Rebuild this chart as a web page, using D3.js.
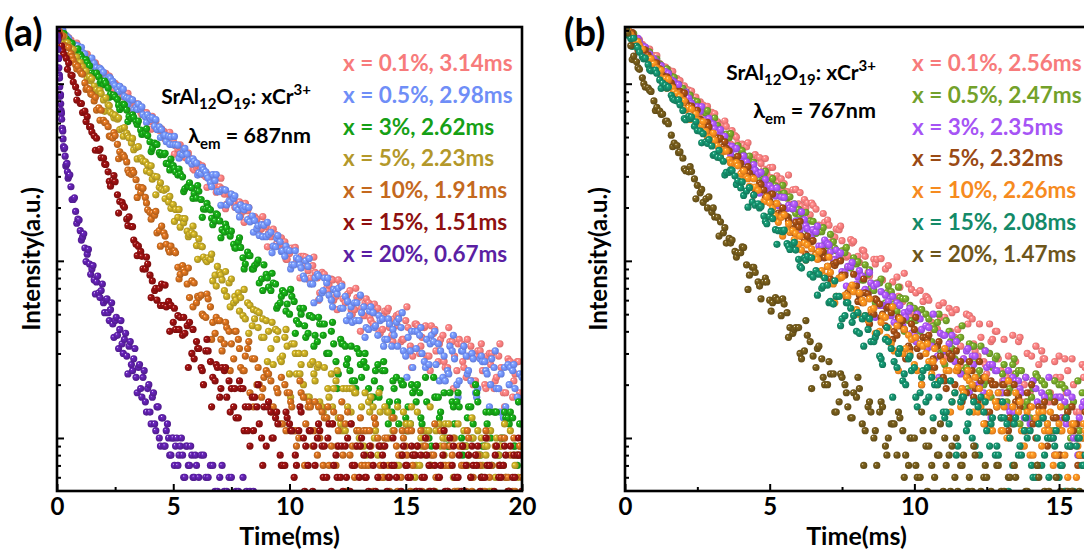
<!DOCTYPE html>
<html><head><meta charset="utf-8">
<script src="https://cdn.jsdelivr.net/npm/d3@7/dist/d3.min.js"></script>
<style>
html,body{margin:0;padding:0;background:#fff;}
svg{display:block;}
text{font-family:Lato,"Open Sans","DejaVu Sans",sans-serif;font-weight:700;}
</style></head><body>
<svg id="chart" width="1084" height="550"></svg>
<script>
// ---------- DATA (photon counts) ----------
const timeA = [0,0.2,0.4,0.6,0.8,1,1.2,1.4,1.6,1.8,2,2.2,2.4,2.6,2.8,3,3.2,3.4,3.6,3.8,4,4.2,4.4,4.6,4.8,5,5.2,5.4,5.6,5.8,6,6.2,6.4,6.6,6.8,7,7.2,7.4,7.6,7.8,8,8.2,8.4,8.6,8.8,9,9.2,9.4,9.6,9.8,10,10.2,10.4,10.6,10.8,11,11.2,11.4,11.6,11.8,12,12.2,12.4,12.6,12.8,13,13.2,13.4,13.6,13.8,14,14.2,14.4,14.6,14.8,15,15.2,15.4,15.6,15.8,16,16.2,16.4,16.6,16.8,17,17.2,17.4,17.6,17.8,18,18.2,18.4,18.6,18.8,19,19.2,19.4,19.6,19.8,20];
const timeAo = [0.1,0.3,0.5,0.7,0.9,1.1,1.3,1.5,1.7,1.9,2.1,2.3,2.5,2.7,2.9,3.1,3.3,3.5,3.7,3.9,4.1,4.3,4.5,4.7,4.9,5.1,5.3,5.5,5.7,5.9,6.1,6.3,6.5,6.7,6.9,7.1,7.3,7.5,7.7,7.9,8.1,8.3,8.5,8.7,8.9,9.1,9.3,9.5,9.7,9.9,10.1,10.3,10.5,10.7,10.9,11.1,11.3,11.5,11.7,11.9,12.1,12.3,12.5,12.7,12.9,13.1,13.3,13.5,13.7,13.9,14.1,14.3,14.5,14.7,14.9,15.1,15.3,15.5,15.7,15.9,16.1,16.3,16.5,16.7,16.9,17.1,17.3,17.5,17.7,17.9,18.1,18.3,18.5,18.7,18.9,19.1,19.3,19.5,19.7,19.9];
const timeAt = [0.05,0.25,0.45,0.65,0.85,1.05,1.25,1.45,1.65,1.85,2.05,2.25,2.45,2.65,2.85,3.05,3.25,3.45,3.65,3.85,4.05,4.25,4.45,4.65,4.85,5.05,5.25,5.45,5.65,5.85,6.05,6.25,6.45,6.65,6.85,7.05,7.25,7.45,7.65,7.85,8.05,8.25,8.45,8.65,8.85,9.05,9.25,9.45,9.65,9.85,10.05,10.25,10.45,10.65,10.85,11.05,11.25,11.45,11.65,11.85,12.05,12.25,12.45,12.65,12.85,13.05,13.25,13.45,13.65,13.85,14.05,14.25,14.45,14.65,14.85,15.05,15.25,15.45,15.65,15.85,16.05,16.25,16.45,16.65,16.85,17.05,17.25,17.45,17.65,17.85,18.05,18.25,18.45,18.65,18.85,19.05,19.25,19.45,19.65,19.85];
const timeB = timeA.slice(0, 81);
const timeBo = timeAo.slice(0, 80);
const timeBt = timeAt.slice(0, 80);
const timeA20 = [0,0.02,0.04,0.06,0.08,0.1,0.12,0.14,0.16,0.18,0.2,0.23,0.26,0.3,0.35,0.4,0.45,0.5,0.6,0.7,0.8,0.9,1.0,1.1,1.2,1.3,1.4,1.5,1.6,1.7,1.8,1.9,2.0,2.1,2.2,2.3,2.4,2.5,2.6,2.7,2.8,2.9,3.0,3.1,3.2,3.3,3.4,3.5,3.6,3.7,3.8,3.9,4.0,4.1,4.2,4.3,4.4,4.5,4.6,4.7,4.8,4.9,5.0,5.1,5.2,5.3,5.4,5.5,5.6,5.7,5.8,5.9,6.0,6.2,6.4,6.6,6.8,7.0,7.2,7.4,7.6,7.8,8.0,8.3,8.6,9.0];
const timeA20o = [0.01,0.03,0.05,0.07,0.09,0.11,0.13,0.15,0.17,0.19,0.22,0.25,0.28,0.33,0.38,0.43,0.48,0.55,0.65,0.75,0.85,0.95,1.05,1.15,1.25,1.35,1.45,1.55,1.65,1.75,1.85,1.95,2.05,2.15,2.25,2.35,2.45,2.55,2.65,2.75,2.85,2.95,3.05,3.15,3.25,3.35,3.45,3.55,3.65,3.75,3.85,3.95,4.05,4.15,4.25,4.35,4.45,4.55,4.65,4.75,4.85,4.95,5.05,5.15,5.25,5.35,5.45,5.55,5.65,5.75,5.85,5.95,6.1,6.3,6.5,6.7,6.9,7.1,7.3,7.5,7.7,7.9,8.15,8.45,8.8];

// panel (a), lambda_em = 687 nm
const a_x01 = [2060,1975,1820,1760,1610,1555,1425,1390,1265,1230,1120,1095,990,975,880,862,780,768,690,682,612,602,545,538,482,476,428,420,378,372,336,332,298,294,266,262,238,236,212,214,190,192,170,172,152,156,137,141,122,128,110,117,99,106,88,94,80,86,70,79,63,74,58,68,53,62,49,58,44,54,41,52,38,49,35,46,33,44,30,42,29,39,27,38,25,35,24,34,22,33,21,31,20,30,19,29,18,28,17,27,16];
const a_x01_o = [2085,1873,1822,1615,1628,1486,1468,1288,1258,1114,1145,1025,1005,961,850,830,717,763,689,610,655,563,556,478,498,447,452,383,381,326,352,306,307,304,249,255,209,236,210,180,211,174,178,146,162,144,151,121,125,102,118,99,106,105,80,86,66,84,73,60,78,61,65,50,62,54,61,46,51,39,52,42,47,50,36,42,29,43,37,29,43,31,36,25,35,29,36,25,29,20,31,24,29,30,22,25,18,27,23,18];
const a_x01_t = [1901,1981,1804,1640,1695,1388,1448,1312,1310,1128,1127,1105,932,929,845,882,693,769,669,686,554,614,549,488,532,400,444,394,406,331,345,344,260,282,244,293,197,238,201,215,165,200,174,151,178,120,146,125,135,102,115,119,80,94,78,105,60,84,68,78,53,74,63,53,70,40,58,48,57,40,49,54,35,43,36,55,25,44,33,43,24,41,34,27,42,19,34,27,36,21,29,34,19,26,21,34,15,27,21,27];
const a_x05 = [2073,1930,1868,1705,1650,1510,1470,1340,1305,1190,1160,1050,1030,930,915,830,812,735,722,650,640,575,570,510,505,452,450,398,400,352,356,310,318,276,284,246,252,218,225,194,198,171,179,152,160,137,145,120,128,106,114,95,102,82,93,74,84,66,75,60,68,54,63,49,58,46,55,41,51,38,47,36,33,45,42,29,31,40,38,27,26,35,34,22,24,31,20,31,29,21,18,28,27,15,25,19,13,26,24,17,22];
const a_x05_o = [2080,1850,1807,1601,1635,1498,1355,1394,1233,1199,1061,1071,977,965,847,827,713,767,669,668,644,552,550,471,501,453,401,431,369,365,314,327,293,307,246,252,207,238,200,207,202,166,169,139,159,141,121,139,114,115,95,104,91,100,74,80,61,80,64,69,70,54,59,45,58,51,42,55,43,46,36,44,38,47,31,37,25,40,30,36,38,26,31,21,33,28,21,33,24,28,19,27,23,28,19,23,15,25,19,23];
const a_x05_t = [2052,2010,1697,1690,1536,1604,1315,1371,1229,1222,1044,1089,991,901,932,763,810,716,740,604,627,628,497,512,455,504,380,422,367,377,305,337,303,262,307,206,251,215,233,177,194,200,145,158,137,165,111,134,113,121,90,114,95,79,103,58,82,68,80,55,65,72,46,55,46,64,37,52,42,49,33,47,41,33,51,22,40,32,42,25,34,40,21,29,23,38,17,31,23,30,17,29,24,20,31,14,25,20,26,16];
const a_x3 = [2050,1930,1790,1690,1530,1460,1320,1260,1140,1090,985,945,850,815,735,710,636,612,548,530,470,462,408,398,352,345,305,298,262,258,226,222,196,194,168,168,145,146,124,128,104,112,90,97,79,84,68,74,58,66,50,59,44,54,39,48,35,44,30,40,27,36,33,24,21,30,27,19,17,26,24,15,14,22,21,13,12,19,18,11,10,22,17,11,9,16,16,10,9,15,20,8,9,14,14,8,10,13,13,7,9];
const a_x3_o = [1904,1920,1736,1550,1573,1372,1317,1153,1147,1033,1006,872,841,715,760,654,645,615,520,510,432,454,405,355,375,317,310,255,276,240,247,196,199,160,182,150,153,147,118,119,96,107,94,75,95,71,75,56,68,57,63,46,50,37,49,38,44,44,30,34,23,34,28,21,32,22,25,17,24,19,24,16,19,12,20,15,18,20,12,16,9,17,14,10,18,12,15,9,15,12,16,9,12,7,14,10,13,14,9,12];
const a_x3_t = [1860,1916,1712,1688,1435,1417,1368,1141,1122,1006,1036,839,863,757,767,611,668,589,517,557,414,454,397,405,326,333,330,246,263,225,266,176,211,174,184,135,161,138,118,135,90,107,90,101,68,80,85,54,63,52,69,39,54,43,49,33,48,38,30,45,19,34,26,33,19,26,30,16,21,17,27,12,21,16,20,11,20,16,13,22,7,17,13,18,9,15,18,8,13,10,18,6,14,10,14,7,14,12,9,16];
const a_x5 = [2040,1895,1700,1590,1410,1320,1160,1095,970,905,810,760,672,630,558,525,462,436,382,362,315,300,260,250,215,208,176,173,147,144,122,121,101,102,83,86,68,75,58,66,49,58,43,52,37,46,32,41,28,37,23,34,30,20,17,27,25,15,13,23,21,12,11,19,18,10,9,16,15,8,9,14,13,7,8,12,12,6,7,11,11,5,6,10,10,4,5,9,9,6,4,8,9,5,3,8,7,5,4,8,5];
const a_x5_o = [1901,1853,1636,1562,1324,1249,1070,1066,922,879,833,690,664,551,566,494,424,441,365,348,289,298,253,255,198,195,155,173,141,141,133,105,104,77,93,78,63,79,60,62,47,56,47,51,37,40,26,40,29,33,34,23,26,17,26,21,16,25,17,19,13,19,15,19,11,15,8,17,11,14,15,10,13,7,14,11,8,14,9,11,7,11,9,12,7,10,5,11,8,10,11,7,9,5,10,9,6,11,7,9];
const a_x5_t = [2080,1686,1701,1474,1416,1171,1180,1039,914,918,698,750,642,642,505,507,491,376,375,322,344,236,276,224,231,167,195,164,137,157,102,120,99,109,72,83,87,55,63,52,69,39,53,42,47,27,45,36,27,41,17,30,23,30,17,23,26,14,19,15,24,11,19,14,18,9,18,14,10,18,6,14,11,15,8,12,15,7,10,8,15,5,12,8,12,6,12,9,7,13,4,10,8,11,6,9,12,5,8,6];
const a_x10 = [2030,1860,1620,1480,1280,1175,1010,925,800,730,622,572,493,455,390,362,308,287,242,228,188,181,148,144,116,113,92,94,74,77,58,64,48,55,39,46,34,40,28,36,24,32,28,20,17,24,21,14,12,20,18,11,10,17,15,9,8,14,13,9,7,13,12,8,6,11,11,7,5,10,6,10,4,9,6,9,5,8,4,9,5,8,3,7,5,8,4,7,5,6,3,7,5,6,4,7,3,6,5,4,6];
const a_x10_o = [1971,1647,1600,1353,1253,1133,945,870,710,708,602,503,510,413,385,313,315,261,257,194,186,144,157,124,121,111,84,86,62,75,62,49,61,45,46,31,42,34,40,25,29,18,28,20,22,23,15,18,12,18,15,9,18,12,15,16,10,13,7,14,11,8,14,9,11,7,11,9,12,7,10,5,11,8,10,11,7,9,5,10,8,6,11,7,9,5,9,7,10,6,8,5,10,7,9,10,6,8,5,9];
const a_x10_t = [1906,1859,1436,1416,1212,1143,929,877,838,622,603,506,530,377,395,325,324,228,259,212,172,190,121,138,112,114,79,89,91,55,63,50,65,36,48,36,45,24,40,32,24,35,15,25,19,23,14,19,22,11,16,11,21,7,16,11,15,7,15,12,9,16,5,12,9,13,7,11,13,6,9,7,13,5,11,8,11,5,11,9,7,12,4,9,7,10,5,9,11,5,8,6,11,4,9,7,10,5,10,8];
const a_x15 = [2020,1630,1390,1120,960,775,700,570,508,420,380,318,286,236,214,172,156,124,113,90,83,68,70,56,59,45,49,38,43,30,35,25,31,27,21,17,24,21,15,13,19,11,17,15,10,9,14,13,8,7,12,6,11,10,7,5,10,9,6,5,8,6,9,5,7,6,8,5,7,6,8,5,7,6,5,7,6,8,5,6,7,5,6,8,5,7,6,5,7,6,8,5,6,7,5,6,7,5,6,8,5];
const a_x15_o = [1875,1461,1307,1022,891,688,653,534,492,382,350,264,280,216,201,177,131,121,90,96,77,60,74,55,56,41,48,39,45,28,32,20,31,22,25,25,17,19,13,19,15,9,17,12,15,16,10,12,7,13,11,7,14,9,11,7,11,9,12,7,9,5,10,7,9,10,6,8,5,9,9,6,7,4,9,6,8,9,6,8,4,9,7,5,10,6,8,5,8,7,9,6,7,4,9,6,8,9,6,8];
const a_x15_t = [1775,1524,1205,1112,809,773,612,571,421,428,352,281,303,186,205,158,156,107,106,105,62,70,56,73,40,54,41,48,25,41,32,24,36,15,26,19,25,14,19,21,11,15,11,20,7,15,10,14,7,14,11,8,15,5,11,9,12,6,10,12,6,9,6,12,4,9,6,9,4,9,7,6,10,4,8,7,9,5,8,10,5,7,6,11,4,9,6,9,4,9,7,6,10,4,8,7,9,5,8,10];
const a_x20 = [2050,1790,1560,1390,1230,1110,960,850,770,690,630,560,488,430,390,350,318,300,262,222,190,172,148,136,118,109,96,90,78,76,66,68,58,60,51,53,44,46,38,41,34,36,29,33,26,28,22,25,19,22,16,19,14,17,12,15,10,13,9,11,10,8,10,9,7,9,8,6,9,7,8,6,7,8,6,7,5,6,5,6,4,5,6,5,4,3];
const a_x20_o = [1862,1754,1397,1389,1123,1076,851,867,708,680,556,541,442,435,343,355,293,306,222,227,163,170,131,142,99,116,84,94,65,82,62,74,51,61,46,58,37,48,32,46,30,39,23,35,24,32,18,26,17,24,14,20,12,18,11,15,9,13,9,12,8,10,7,10,8,10,6,9,7,9,6,8,6,8,6,7,5,7,5,6,5,4,5,5,4];

// panel (b), lambda_em = 767 nm
const b_x01 = [2060,1930,1770,1670,1520,1440,1300,1240,1120,1070,960,920,830,790,705,690,610,588,520,510,445,440,385,382,330,336,285,290,246,252,210,222,182,196,158,170,137,150,116,132,99,115,86,102,76,90,66,81,59,74,51,68,63,45,41,58,54,37,33,50,47,29,27,44,40,24,22,38,35,20,18,33,31,17,16,29,28,15,14,26,24];
const b_x01_o = [2020,1762,1771,1597,1424,1440,1254,1201,1048,1040,935,908,784,757,640,679,583,574,544,459,449,380,398,355,311,337,277,273,209,253,203,212,206,159,165,127,151,130,107,129,98,106,75,102,78,94,62,71,50,69,52,59,60,43,48,29,51,41,28,49,31,37,23,36,28,36,21,27,16,30,21,26,28,18,22,13,24,20,14,25];
const b_x01_t = [1976,1944,1647,1623,1566,1301,1275,1142,1174,946,972,857,839,682,744,654,573,616,456,499,456,464,373,383,378,295,302,257,305,203,243,200,212,156,185,159,136,157,105,126,106,114,82,96,103,66,76,63,85,48,66,53,62,41,56,48,40,53,25,44,34,44,26,35,40,21,29,23,37,16,29,22,28,16,27,22,18,28,12,22];
const b_x05 = [2070,1900,1780,1610,1520,1370,1290,1165,1100,990,940,845,800,715,682,608,580,518,495,438,422,372,360,316,308,270,265,230,226,196,195,168,168,143,146,122,128,105,111,91,96,78,84,68,75,58,67,52,61,46,54,40,50,35,45,31,40,28,37,25,33,22,20,30,28,18,16,26,24,15,13,23,21,12,11,20,19,10,10,18,17];
const b_x05_o = [1983,1919,1649,1579,1368,1378,1208,1160,1087,941,901,782,793,702,609,640,538,520,438,448,395,390,324,316,256,291,239,241,230,185,186,150,167,146,124,141,114,114,92,104,87,95,70,75,56,72,57,62,61,46,50,37,47,41,30,46,32,36,24,34,27,33,21,25,16,26,19,23,24,16,19,13,20,17,13,20,14,16,11,16];
const b_x05_t = [2061,1810,1765,1480,1508,1343,1197,1212,972,993,881,862,709,720,706,546,552,481,522,385,419,357,360,285,321,275,233,267,176,210,177,188,141,152,154,111,118,101,119,72,99,78,89,58,79,66,55,71,40,56,46,53,36,43,50,26,35,27,43,19,33,24,31,17,29,23,18,28,12,22,17,22,13,18,21,11,15,11,21,7];
const b_x3 = [2040,1920,1740,1630,1470,1380,1245,1170,1050,985,875,830,740,700,625,598,528,505,446,428,378,362,318,309,270,266,232,229,198,197,168,171,143,146,121,125,102,108,86,93,74,82,65,72,56,64,49,58,43,52,38,47,43,33,29,38,34,27,23,31,29,20,18,26,24,16,15,22,21,13,12,19,18,11,10,17,16,9,10,15,9];
const b_x3_o = [2060,1801,1723,1611,1391,1327,1147,1143,1023,898,897,774,742,623,637,558,550,455,443,372,391,333,325,316,254,256,205,228,199,168,189,152,150,121,131,112,115,87,93,69,88,69,75,74,56,59,45,56,48,39,50,37,42,28,39,31,38,24,28,18,29,21,25,26,18,21,14,21,18,13,21,15,17,10,17,13,18,10,13,8];
const b_x3_t = [2008,1784,1801,1441,1468,1298,1265,1064,1039,988,810,789,685,743,547,592,504,505,399,432,377,327,349,241,288,243,258,193,206,209,149,158,134,157,104,123,101,111,72,98,81,67,86,48,67,55,63,43,51,54,35,41,32,50,22,38,28,35,19,32,26,20,31,13,24,18,24,14,19,22,12,16,13,22,8,17,12,17,8,16];
const b_x5 = [2050,1880,1740,1560,1450,1300,1215,1085,1010,905,848,752,705,630,592,525,495,442,418,366,355,308,297,258,251,218,210,183,178,152,155,132,128,110,109,93,96,80,83,68,72,58,65,50,57,43,51,38,46,33,41,29,37,25,33,22,30,20,27,18,24,16,22,14,20,13,18,12,17,11,15,10,14,9,13,8,13,9,12,8,11];
const b_x5_o = [1957,1845,1585,1549,1370,1312,1115,1055,905,904,785,748,708,589,570,475,492,431,370,389,327,313,253,270,233,238,186,183,145,165,138,138,130,103,104,79,98,83,66,84,64,66,50,60,50,55,40,43,28,44,32,37,38,25,29,19,29,24,18,27,19,21,14,20,16,20,13,16,9,18,12,15,16,10,13,7,14,11,8,14];
const b_x5_t = [1922,1945,1544,1560,1355,1307,1084,1094,965,851,887,648,700,601,605,479,484,469,360,364,317,340,235,275,227,238,172,199,168,144,167,109,128,106,113,81,94,100,62,72,59,79,44,61,48,54,36,48,41,32,48,20,36,28,35,21,28,31,16,22,17,27,12,21,15,20,11,20,15,11,20,7,15,11,16,8,13,15,7,10];
const b_x10 = [2030,1895,1690,1570,1395,1295,1150,1070,950,880,780,730,650,608,538,505,445,421,372,354,310,296,260,250,217,212,180,176,150,148,124,126,105,108,88,93,74,80,64,70,53,60,46,54,40,48,34,43,30,38,26,34,30,23,20,27,24,18,15,22,20,14,12,18,16,11,10,15,14,9,8,13,9,12,7,12,8,11,6,10,7];
const b_x10_o = [2054,1750,1649,1408,1387,1227,1069,1059,903,847,711,718,624,611,498,480,399,417,354,344,322,263,261,208,229,198,165,182,145,143,115,123,105,113,82,86,63,81,63,67,66,49,53,39,49,42,31,47,32,36,24,33,27,32,21,24,16,25,18,21,22,15,17,11,18,15,10,18,11,14,8,14,11,14,8,11,6,12,8,11];
const b_x10_t = [1896,1829,1727,1405,1351,1185,1192,942,946,818,804,628,673,582,499,527,385,415,357,359,285,291,291,205,217,182,211,138,162,132,138,101,117,102,82,105,58,80,64,73,50,58,61,39,45,37,55,24,41,30,37,20,34,27,21,32,14,24,19,24,14,19,22,11,15,11,21,7,16,11,15,7,14,11,8,15,5,12,9,12];
const b_x15 = [2060,1800,1630,1420,1280,1185,1050,980,860,800,705,655,575,540,470,445,385,365,316,301,258,248,215,210,179,178,150,148,125,124,102,104,84,88,70,73,57,63,49,54,40,47,41,35,29,36,32,25,21,28,25,18,16,22,20,14,12,18,16,11,10,15,14,9,8,13,12,7,8,11,11,6,7,10,10,6,5,9,9,7,6];
const b_x15_o = [1877,1806,1505,1394,1183,1146,1009,957,808,760,626,648,544,522,484,399,382,316,324,283,234,259,206,203,162,173,148,149,116,115,91,106,81,84,80,59,63,47,58,49,39,49,35,39,26,35,27,32,20,24,15,24,17,20,21,14,16,9,17,14,9,17,11,13,8,13,10,13,8,10,6,12,8,10,11,7,9,5,10,8];
const b_x15_t = [2025,1623,1592,1381,1201,1193,942,945,823,811,636,635,610,464,461,394,420,305,326,270,279,201,235,199,167,190,124,146,121,127,93,101,104,64,72,58,77,43,58,45,51,33,47,37,28,42,17,30,23,29,17,22,25,13,17,13,21,8,17,12,16,8,16,12,9,16,5,12,9,13,7,10,13,6,9,7,13,5,10,7];
const b_x20 = [2060,1640,1330,1080,945,800,700,614,512,448,380,318,290,242,224,188,176,144,134,113,111,95,92,76,76,60,62,49,51,39,42,31,35,25,28,20,23,16,20,13,17,12,15,10,14,9,12,8,11,7,10,6,9,7,8,5,8,6,7,4,5,4,6,3,4,5,4,3,4,3,4,3,4,3,2,4,3,2,4,3,3];
const b_x20_o = [1931,1431,1205,958,905,736,674,595,462,412,323,319,267,214,230,177,166,126,131,111,119,83,86,61,76,58,60,57,42,42,28,38,29,33,20,23,14,22,15,18,19,11,14,7,15,10,12,13,8,10,6,11,9,6,12,7,9,5,8,6,8,5,6,3,7,5,6,6,4,5,3,6,5,3,6,4,5,3,5,4];
const b_x20_t = [1980,1369,1231,1001,918,706,672,615,441,408,331,340,224,253,199,199,138,154,126,105,120,69,92,72,80,52,60,61,37,41,30,46,19,32,22,27,14,23,18,13,22,7,16,11,16,8,12,14,6,10,7,14,5,11,8,10,5,10,7,5,9,3,7,5,7,4,6,7,3,5,4,7,2,5,4,5,3,5,4,3];

const labelsA = ["x = 0.1%, 3.14ms","x = 0.5%, 2.98ms","x = 3%, 2.62ms","x = 5%, 2.23ms","x = 10%, 1.91ms","x = 15%, 1.51ms","x = 20%, 0.67ms"];
const labelsB = ["x = 0.1%, 2.56ms","x = 0.5%, 2.47ms","x = 3%, 2.35ms","x = 5%, 2.32ms","x = 10%, 2.26ms","x = 15%, 2.08ms","x = 20%, 1.47ms"];
const colorsA = ["#f77b7b","#6f8ef7","#16a016","#bea424","#c86a1e","#8e1010","#5b1fa3"];
const labelColorsA = ["#f77b7b","#6f8ef7","#16a016","#b3982a","#c4691e","#8e1010","#5b1fa3"];
const colorsB = ["#f77b7b","#73a12a","#a654f5","#9a4a14","#f68b1f","#148a68","#6e561a"];
const partsA = [
  [[timeA,a_x01],[timeAo,a_x01_o],[timeAt,a_x01_t]],
  [[timeA,a_x05],[timeAo,a_x05_o],[timeAt,a_x05_t]],
  [[timeA,a_x3],[timeAo,a_x3_o],[timeAt,a_x3_t]],
  [[timeA,a_x5],[timeAo,a_x5_o],[timeAt,a_x5_t]],
  [[timeA,a_x10],[timeAo,a_x10_o],[timeAt,a_x10_t]],
  [[timeA,a_x15],[timeAo,a_x15_o],[timeAt,a_x15_t]],
  [[timeA20,a_x20],[timeA20o,a_x20_o]]
];
const partsB = [
  [[timeB,b_x01],[timeBo,b_x01_o],[timeBt,b_x01_t]],
  [[timeB,b_x05],[timeBo,b_x05_o],[timeBt,b_x05_t]],
  [[timeB,b_x3],[timeBo,b_x3_o],[timeBt,b_x3_t]],
  [[timeB,b_x5],[timeBo,b_x5_o],[timeBt,b_x5_t]],
  [[timeB,b_x10],[timeBo,b_x10_o],[timeBt,b_x10_t]],
  [[timeB,b_x15],[timeBo,b_x15_o],[timeBt,b_x15_t]],
  [[timeB,b_x20],[timeBo,b_x20_o],[timeBt,b_x20_t]]
];
const xTicksA = [0,5,10,15,20], xMinorA = [2.5,7.5,12.5,17.5];
const xTicksB = [0,5,10,15], xMinorB = [2.5,7.5,12.5];
const yMajor = [10,100,1000];
const yMinor = [6,7,8,9,20,30,40,50,60,70,80,90,200,300,400,500,600,700,800,900,2000];

// ---------- DRAWING ----------
const svg = d3.select("#chart");
const defs = svg.append("defs");
const TOP = 27, BOTTOM = 491;
const FONT = "Lato,'Open Sans',sans-serif";

function makeGrad(id, color){
  const c = d3.color(color);
  const g = defs.append("radialGradient").attr("id", id)
    .attr("cx","50%").attr("cy","50%").attr("r","55%").attr("fx","32%").attr("fy","30%");
  g.append("stop").attr("offset","0%").attr("stop-color","#ffffff");
  g.append("stop").attr("offset","22%").attr("stop-color", c.brighter(0.5).formatHex());
  g.append("stop").attr("offset","60%").attr("stop-color", color);
  g.append("stop").attr("offset","100%").attr("stop-color", c.darker(0.5).formatHex());
}

function drawPanel(cfg){
  const g = svg.append("g");
  const x = d3.scaleLinear().domain([0, cfg.xMax]).range([cfg.left, cfg.right]);
  const y = d3.scaleLog().domain([5.02, 2090]).range([BOTTOM, TOP]);

  defs.append("clipPath").attr("id","clip"+cfg.id)
    .append("rect").attr("x",cfg.left).attr("y",TOP).attr("width",cfg.right-cfg.left).attr("height",BOTTOM-TOP);

  const plot = g.append("g").attr("clip-path","url(#clip"+cfg.id+")");
  cfg.parts.forEach((parts, si) => {
    const gid = "g"+cfg.id+si;
    makeGrad(gid, cfg.colors[si]);
    const pts = [];
    parts.forEach(([ts, vs]) => vs.forEach((v,i) => pts.push({t: ts[i], v})));
    pts.sort((a,b)=>a.t-b.t);
    plot.append("g").selectAll("circle").data(pts).join("circle")
      .attr("cx", d=>x(d.t)).attr("cy", d=>y(d.v)).attr("r", 3.6)
      .attr("fill", "url(#"+gid+")");
  });

  // axes (inward ticks)
  const xa = g.append("g").attr("transform",`translate(0,${BOTTOM})`)
    .call(d3.axisBottom(x).tickValues(cfg.xTicks).tickSize(-7).tickPadding(7).tickFormat(d3.format("d")));
  xa.select(".domain").remove();
  xa.selectAll("line").attr("stroke","#000").attr("stroke-width",2);
  xa.selectAll("text").attr("font-size",24).attr("fill","#000").style("font-family",FONT).style("font-weight",700);
  const xm = g.append("g").attr("transform",`translate(0,${BOTTOM})`)
    .call(d3.axisBottom(x).tickValues(cfg.xMinor).tickSize(-4).tickFormat(""));
  xm.select(".domain").remove();
  xm.selectAll("line").attr("stroke","#000").attr("stroke-width",2);

  const ya = g.append("g").attr("transform",`translate(${cfg.left},0)`)
    .call(d3.axisLeft(y).tickValues(yMajor).tickSize(-7).tickFormat(""));
  ya.select(".domain").remove();
  ya.selectAll("line").attr("stroke","#000").attr("stroke-width",2);
  const ym = g.append("g").attr("transform",`translate(${cfg.left},0)`)
    .call(d3.axisLeft(y).tickValues(yMinor).tickSize(-4).tickFormat(""));
  ym.select(".domain").remove();
  ym.selectAll("line").attr("stroke","#000").attr("stroke-width",2);

  // frame
  g.append("rect").attr("x",cfg.left).attr("y",TOP).attr("width",cfg.right-cfg.left).attr("height",BOTTOM-TOP)
    .attr("fill","none").attr("stroke","#000").attr("stroke-width",2.6);

  // panel tag
  g.append("text").attr("x",cfg.tagX).attr("y",46).attr("font-size",38).text(cfg.tag);

  // axis titles
  g.append("text").attr("x",(cfg.left+cfg.right)/2).attr("y",545).attr("text-anchor","middle").attr("font-size",25).text("Time(ms)");
  g.append("text").attr("transform",`translate(${cfg.ylabX},${(TOP+BOTTOM)/2}) rotate(-90)`)
    .attr("text-anchor","middle").attr("font-size",24).text("Intensity(a.u.)");

  // legend
  cfg.labels.forEach((lab,i)=>{
    g.append("text").attr("x",cfg.legX).attr("y",71+31.8*i).attr("font-size",22.5)
      .attr("fill",cfg.labelColors[i]).text(lab);
  });

  // annotation
  const n1 = g.append("text").attr("x",cfg.noteX).attr("y",cfg.noteY1).attr("text-anchor","end").attr("font-size",21).attr("fill","#000");
  n1.append("tspan").text("SrAl");
  n1.append("tspan").attr("font-size",15).attr("dy",5).text("12");
  n1.append("tspan").attr("dy",-5).text("O");
  n1.append("tspan").attr("font-size",15).attr("dy",5).text("19");
  n1.append("tspan").attr("dy",-5).text(": xCr");
  n1.append("tspan").attr("font-size",15).attr("dy",-9).text("3+");
  const n2 = g.append("text").attr("x",cfg.noteX).attr("y",cfg.noteY2).attr("text-anchor","end").attr("font-size",21.5).attr("fill","#000");
  n2.append("tspan").text("λ");
  n2.append("tspan").attr("font-size",15).attr("dy",6).text("em");
  n2.append("tspan").attr("dy",-6).text(" = " + cfg.wl);
}

drawPanel({id:"a", left:57, right:522, xMax:20, xTicks:xTicksA, xMinor:xMinorA,
  parts:partsA, colors:colorsA, labelColors:labelColorsA, labels:labelsA,
  tag:"(a)", tagX:4, ylabX:40, legX:343, noteX:311, noteY1:104, noteY2:143, wl:"687nm"});
drawPanel({id:"b", left:625, right:1088, xMax:16, xTicks:xTicksB, xMinor:xMinorB,
  parts:partsB, colors:colorsB, labelColors:colorsB, labels:labelsB,
  tag:"(b)", tagX:564, ylabX:607, legX:912, noteX:876, noteY1:80, noteY2:118, wl:"767nm"});
</script>
</body></html>
